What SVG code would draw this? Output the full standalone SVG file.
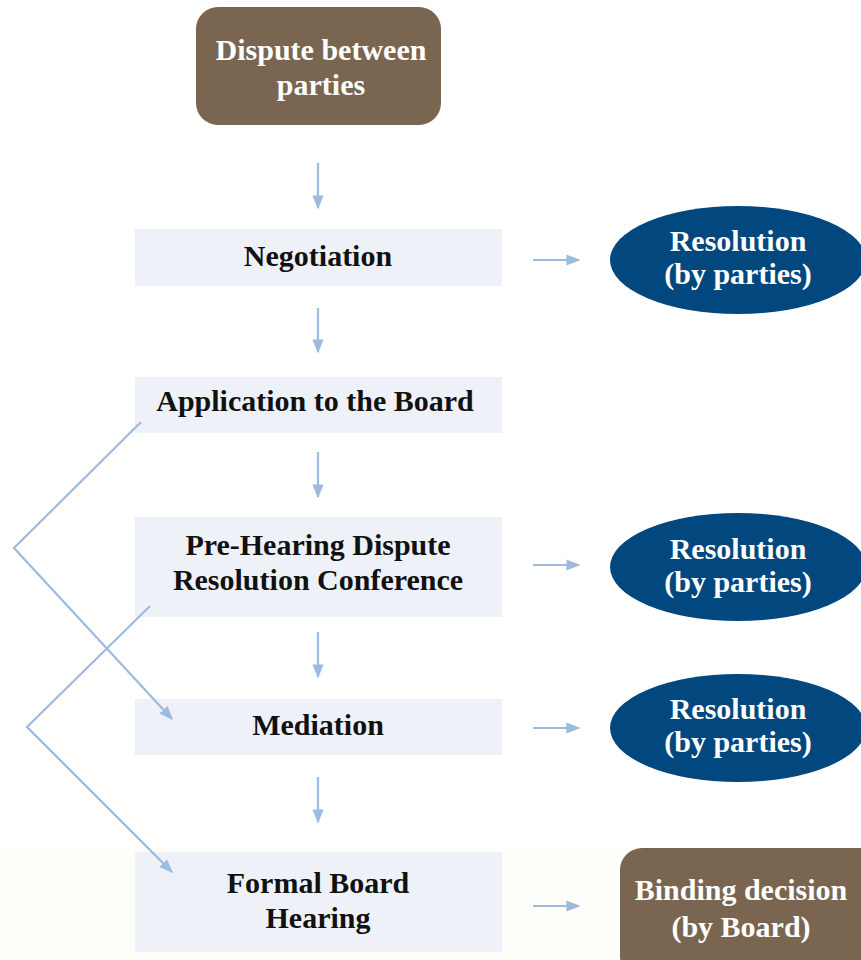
<svg xmlns="http://www.w3.org/2000/svg" width="861" height="960" viewBox="0 0 861 960">
<style>
.t{font-family:"Liberation Serif","Times New Roman",serif;font-weight:bold;font-size:30px;text-anchor:middle}
.dk{fill:#111111}
.wh{fill:#ffffff}
.box{fill:#eef1f8}
.brown{fill:#7a6650}
.ell{fill:#03477f}
.c{stroke:#9dbbdc;stroke-width:2.2;fill:none}
</style>
<defs>
<marker id="ah2" viewBox="0 0 10 10" refX="9" refY="5" markerWidth="14" markerHeight="14" orient="auto" markerUnits="userSpaceOnUse">
<path d="M0,1 L10,5 L0,9 Z" fill="#9dbbdc"/>
</marker>
</defs>
<rect x="0" y="0" width="861" height="960" fill="#ffffff"/>
<rect x="0" y="848" width="861" height="112" fill="#fdfdfa"/>

<g id="dispute">
<rect class="brown" x="196" y="7" width="245" height="118" rx="22"/>
<text class="t wh" x="321" y="60">Dispute between</text>
<text class="t wh" x="321" y="95">parties</text>
</g>

<g id="negotiation">
<rect class="box" x="135" y="229" width="367" height="57"/>
<text class="t dk" x="318" y="266">Negotiation</text>
</g>

<g id="resolution1">
<ellipse class="ell" cx="738" cy="260" rx="128" ry="54"/>
<text class="t wh" x="738" y="251">Resolution</text>
<text class="t wh" x="738" y="284">(by parties)</text>
</g>

<g id="application">
<rect class="box" x="135" y="377" width="367" height="56"/>
<text class="t dk" x="315" y="411">Application to the Board</text>
</g>

<g id="prehearing">
<rect class="box" x="135" y="517" width="367" height="100"/>
<text class="t dk" x="318" y="555">Pre-Hearing Dispute</text>
<text class="t dk" x="318" y="590">Resolution Conference</text>
</g>

<g id="resolution2">
<ellipse class="ell" cx="738" cy="567" rx="128" ry="54"/>
<text class="t wh" x="738" y="559">Resolution</text>
<text class="t wh" x="738" y="592">(by parties)</text>
</g>

<g id="mediation">
<rect class="box" x="135" y="699" width="367" height="56"/>
<text class="t dk" x="318" y="735">Mediation</text>
</g>

<g id="resolution3">
<ellipse class="ell" cx="738" cy="728" rx="128" ry="54"/>
<text class="t wh" x="738" y="719">Resolution</text>
<text class="t wh" x="738" y="752">(by parties)</text>
</g>

<g id="formal">
<rect class="box" x="135" y="852" width="367" height="100"/>
<text class="t dk" x="318" y="893">Formal Board</text>
<text class="t dk" x="318" y="928">Hearing</text>
</g>

<g id="binding">
<rect class="brown" x="620" y="848" width="270" height="130" rx="22"/>
<text class="t wh" x="741" y="900">Binding decision</text>
<text class="t wh" x="741" y="937">(by Board)</text>
</g>

<g id="connectors">
<line class="c" x1="318" y1="163" x2="318" y2="208" marker-end="url(#ah2)"/>
<line class="c" x1="318" y1="308" x2="318" y2="352" marker-end="url(#ah2)"/>
<line class="c" x1="318" y1="452" x2="318" y2="497" marker-end="url(#ah2)"/>
<line class="c" x1="318" y1="632" x2="318" y2="677" marker-end="url(#ah2)"/>
<line class="c" x1="318" y1="777" x2="318" y2="822" marker-end="url(#ah2)"/>
<line class="c" x1="533" y1="260" x2="579" y2="260" marker-end="url(#ah2)"/>
<line class="c" x1="533" y1="565" x2="579" y2="565" marker-end="url(#ah2)"/>
<line class="c" x1="533" y1="728" x2="579" y2="728" marker-end="url(#ah2)"/>
<line class="c" x1="533" y1="906" x2="579" y2="906" marker-end="url(#ah2)"/>
<polyline class="c" points="141,422 14,548 172,719" marker-end="url(#ah2)"/>
<polyline class="c" points="150,606 27,727 172,872" marker-end="url(#ah2)"/>
</g>
</svg>
